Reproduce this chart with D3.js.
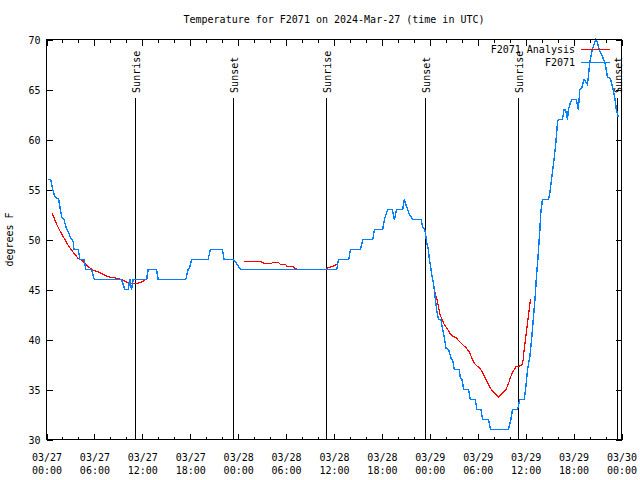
<!DOCTYPE html>
<html><head><meta charset="utf-8">
<script src="https://cdn.jsdelivr.net/npm/d3@7"></script>
<style>
body{margin:0;background:#fff}
svg text{font-family:"DejaVu Sans Mono","Liberation Mono",monospace;font-size:10px;fill:#000}
</style>
</head><body><svg id="chart" width="640" height="480"></svg>
<script>
// ---------------- data (hours after 2024-03-27 00:00 UTC) ----------------
const obsHours = [0.23,0.53,0.65,0.78,0.98,1.19,1.53,1.69,1.94,2.19,2.35,2.53,2.73,2.94,3.19,3.35,3.44,3.98,4.19,4.69,4.94,5.65,5.98,
  9.4,9.6,9.81,10.23,10.44,10.65,10.85,12.53,12.73,13.78,13.98,17.44,17.73,17.94,18.15,20.23,20.53,22.03,22.23,23.35,23.69,24.28,
  34.94,36.35,36.56,37.85,38.06,39.31,39.6,40.85,41.06,42.1,42.31,42.5,42.73,43.28,43.56,43.85,44.6,44.81,45.0,45.23,45.44,45.85,46.9,47.1,
  47.35,47.44,47.6,47.81,47.94,48.1,48.28,48.44,48.56,48.69,48.85,49.03,49.1,49.4,49.53,49.69,49.85,50.03,50.35,50.53,50.69,50.85,51.06,
  51.69,51.81,52.03,52.23,52.85,53.06,53.69,53.9,54.4,54.6,55.35,55.6,57.85,58.15,58.35,58.98,59.28,59.81,60.03,60.23,60.53,60.78,60.98,
  61.19,61.35,61.53,61.69,61.78,61.9,62.1,62.85,63.03,63.28,63.48,63.69,63.85,63.98,64.1,64.6,64.81,65.0,65.23,65.35,65.65,65.85,66.35,
  66.6,66.78,67.03,67.31,67.73,67.88,68.03,68.28,68.56,68.78,68.98,69.19,69.6,69.94,70.23,70.65,70.94,71.19,71.35,71.6];
const obsTemps = [56,56,55.5,55,54.4,54.2,54,53.2,52.2,52,51.5,51,50.8,50.3,50,49.8,49,49,48,48,47,47,46,
  46,45.5,45,45,46,45,46,46,47,47,46,46,47,47.2,48,48,49,49,48,48,47.7,47,
  47,47,48,48,49,49,50,50,51,51,52,52.5,53,53,52,53,53,54,53.5,53,52.5,52,52,51.3,
  51,50.7,49.7,49,48,47.3,46.3,45.7,45,44,43,42.2,42,42,41.3,40.7,40,39.1,39,38.5,38,38,37,
  37,36.2,36,35,35,34,34,33,33,32,32,31,31,32,33,33,34,34,35.3,37,38.3,40.3,42.3,
  44.3,46.3,48,50,51,52.7,54,54,54.7,56.3,57.5,59,60.3,61.7,62,62,63,63,62,63,63.8,64,64,
  63,65,65.2,66,65.5,66.5,67.7,68.8,69.5,70,69.7,69,68.3,67.7,66.3,66,65,64,63,62.2];

// analysis: null marks a gap between segments
const anaHours = [0.73,0.94,1.28,1.6,1.94,2.31,2.73,3.15,3.56,3.98,4.4,4.81,5.23,5.85,6.48,7.1,7.73,8.56,9.4,9.81,10.23,10.65,11.06,11.69,12.1,12.53,12.73,
  18.0,
  24.73,26.9,27.31,28.15,28.28,29.1,29.31,29.94,30.1,30.81,31.19,31.48,34.94,35.23,35.65,36.06,36.56,
  42.0,
  48.6,48.78,48.94,49.1,49.28,49.48,49.81,50.23,50.53,50.85,51.28,51.69,52.1,52.53,52.94,53.35,53.69,54.19,54.6,55.03,55.44,55.85,56.28,56.6,
  57.03,57.53,57.85,58.15,58.44,58.78,59.19,59.53,59.69,59.81,60.03,60.23,60.44,60.6];
const anaTemps = [52.6,52.17,51.5,51,50.5,50,49.4,48.93,48.5,48.1,47.93,47.6,47.27,46.93,46.77,46.5,46.27,46.17,46,45.83,45.67,45.6,45.6,45.67,45.83,46.07,46.23,
  null,
  47.77,47.77,47.57,47.57,47.67,47.67,47.5,47.5,47.33,47.3,47.07,47,47,47.17,47.27,47.4,47.6,
  null,
  44.9,44.33,43.83,43.17,42.5,42.07,41.5,41,40.6,40.33,40.17,39.83,39.5,39.17,38.73,38,37.5,37.17,36.73,36,35.33,34.83,34.5,34.27,
  34.6,35,35.6,36.33,36.83,37.27,37.33,37.43,38,39,40.33,41.67,43,44];

const sunHours = [11.1, 23.35, 34.98, 47.35, 58.98, 71.48];
const sunNames = ["Sunrise","Sunset","Sunrise","Sunset","Sunrise","Sunset"];
const yTickValues = [30,35,40,45,50,55,60,65,70];
const xMajorStepHours = 6, xMinorStepHours = 2, spanHours = 72;
const seriesNames = ["F2071 Analysis","F2071"];
const seriesColors = ["#ff0000","#0080ff"];
const titleText = "Temperature for F2071 on 2024-Mar-27 (time in UTC)";
const yLabelText = "degrees F";

// ---------------- drawing ----------------
const t0 = Date.UTC(2024,2,27);
const toDate = h => new Date(t0 + h*3600e3);
const L = 46.5, R = 621.5, T = 39.5, B = 439.5;
const svg = d3.select("#chart");
const x = d3.scaleUtc().domain([toDate(0), toDate(spanHours)]).range([L, R]);
const y = d3.scaleLinear().domain([30,70]).range([B, T]);

const majorTicks = d3.range(0, spanHours + 0.001, xMajorStepHours).map(toDate);
const minorTicks = d3.range(0, spanHours + 0.001, xMinorStepHours).filter(h => h % xMajorStepHours !== 0).map(toDate);

function styleAxis(g){ g.select(".domain").remove(); g.selectAll("line").attr("stroke","#000").attr("shape-rendering","crispEdges"); }

// minor ticks bottom/top
svg.append("g").attr("transform",`translate(0,${B})`)
  .call(d3.axisBottom(x).tickValues(minorTicks).tickSizeInner(-3).tickSizeOuter(0).tickFormat(""))
  .call(styleAxis);
svg.append("g").attr("transform",`translate(0,${T})`)
  .call(d3.axisTop(x).tickValues(minorTicks).tickSizeInner(-3).tickSizeOuter(0).tickFormat(""))
  .call(styleAxis);
// major ticks bottom with labels
const fmtD = d3.utcFormat("%m/%d"), fmtT = d3.utcFormat("%H:%M");
const gx = svg.append("g").attr("transform",`translate(0,${B})`)
  .call(d3.axisBottom(x).tickValues(majorTicks).tickSizeInner(-6).tickSizeOuter(0).tickFormat(""))
  .call(styleAxis);
gx.selectAll(".tick").each(function(d){
  const t = d3.select(this).append("text").attr("text-anchor","middle");
  t.append("tspan").attr("x",0).attr("y",21).text(fmtD(d));
  t.append("tspan").attr("x",0).attr("y",34).text(fmtT(d));
});
svg.append("g").attr("transform",`translate(0,${T})`)
  .call(d3.axisTop(x).tickValues(majorTicks).tickSizeInner(-6).tickSizeOuter(0).tickFormat(""))
  .call(styleAxis);
// y axis
const gy = svg.append("g").attr("transform",`translate(${L},0)`)
  .call(d3.axisLeft(y).tickValues(yTickValues).tickSizeInner(-6).tickSizeOuter(0).tickPadding(0))
  .call(styleAxis);
gy.selectAll("text").attr("x",-6).attr("dy","0.35em").attr("font-family",null).attr("font-size",null);
svg.append("g").attr("transform",`translate(${R},0)`)
  .call(d3.axisRight(y).tickValues(yTickValues).tickSizeInner(-6).tickSizeOuter(0).tickFormat(""))
  .call(styleAxis);

// sunrise/sunset markers
const sunTop = T + 0.146*(B-T);
sunHours.forEach((h,i) => {
  const sx = Math.round(x(toDate(h))) + 0.5;
  svg.append("line").attr("x1",sx).attr("x2",sx).attr("y1",sunTop).attr("y2",B)
    .attr("stroke","#000").attr("shape-rendering","crispEdges");
  svg.append("text").attr("transform",`translate(${sx+1.5},${sunTop-5}) rotate(-90)`)
    .attr("dominant-baseline","middle").attr("text-anchor","start").text(sunNames[i]);
});

// series
const anaData = anaHours.map((h,i) => ({d: toDate(h), v: anaTemps[i]}));
const obsData = obsHours.map((h,i) => ({d: toDate(h), v: obsTemps[i]}));
const line = d3.line().defined(p => p.v !== null).x(p => x(p.d)).y(p => y(p.v));
svg.append("path").datum(anaData).attr("d", line).attr("fill","none").attr("stroke",seriesColors[0])
  .attr("stroke-width",1.2).attr("shape-rendering","crispEdges");
svg.append("path").datum(obsData).attr("d", line).attr("fill","none").attr("stroke",seriesColors[1])
  .attr("stroke-width",1.4).attr("shape-rendering","crispEdges");

// frame
svg.append("rect").attr("x",L).attr("y",T).attr("width",R-L).attr("height",B-T)
  .attr("fill","none").attr("stroke","#000").attr("shape-rendering","crispEdges");

// legend
seriesNames.forEach((n,i) => {
  const ly = 49.5 + i*13;
  svg.append("text").attr("x",575).attr("y",ly).attr("dy","0.35em").attr("text-anchor","end").text(n);
  svg.append("line").attr("x1",581).attr("x2",610).attr("y1",ly).attr("y2",ly)
    .attr("stroke",seriesColors[i]).attr("stroke-width",1).attr("shape-rendering","crispEdges");
});

// titles
svg.append("text").attr("x",(L+R)/2).attr("y",23).attr("text-anchor","middle").text(titleText);
svg.append("text").attr("transform",`translate(13,${(T+B)/2}) rotate(-90)`).attr("text-anchor","middle").text(yLabelText);
</script>
</body></html>
